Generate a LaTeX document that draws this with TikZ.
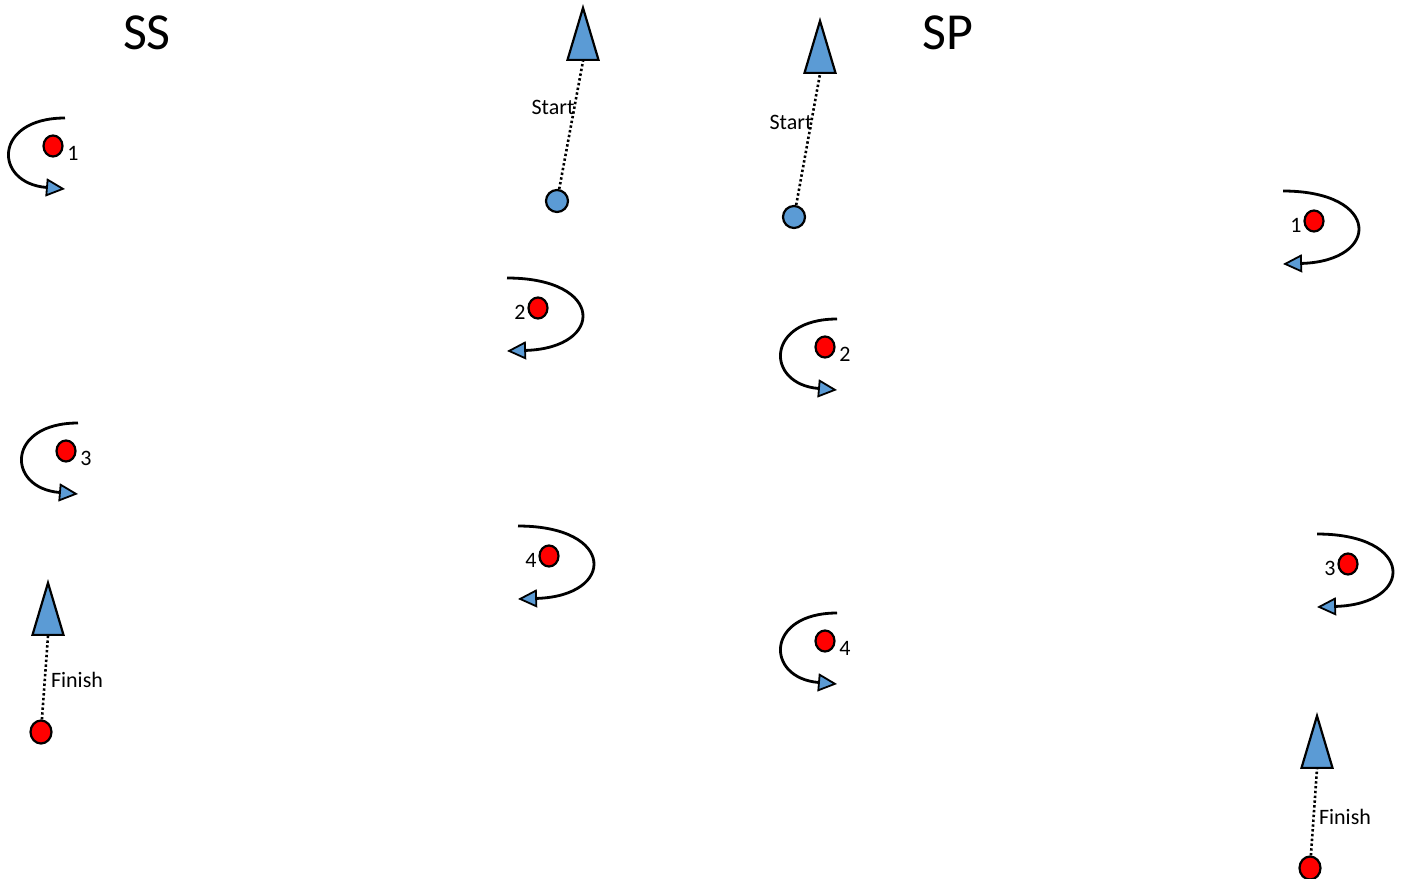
\documentclass[tikz,border=0pt]{standalone}
\usepackage{fontspec}
\setmainfont{Carlito}
\usetikzlibrary{shapes.geometric,arrows.meta}

\definecolor{markblue}{HTML}{5B9BD5}
\definecolor{markred}{HTML}{FF0000}

\tikzset{
  buoy/.style={ellipse,draw,line width=2.2pt,fill=markred,minimum width=19pt,minimum height=21pt,inner sep=0pt},
  startpt/.style={circle,draw,line width=2.2pt,fill=markblue,minimum size=22pt,inner sep=0pt},
  finishpt/.style={ellipse,draw,line width=2.2pt,fill=markred,minimum width=21pt,minimum height=23pt,inner sep=0pt},
  pointer/.style={isosceles triangle,isosceles triangle stretches,shape border rotate=90,draw,line width=2.2pt,fill=markblue,minimum width=31pt,minimum height=52pt,inner sep=0pt,anchor=apex},
  dotline/.style={line width=2.6pt,dash pattern=on 2.4pt off 2.4pt},
  turn/.style={line width=2.8pt,-{Triangle[length=19pt,width=18pt,fill=markblue,line width=1.8pt]}},
  lbl/.style={font=\fontsize{22}{26}\selectfont,inner sep=0pt},
  title/.style={font=\fontsize{52}{60}\selectfont,inner sep=0pt}
}

\begin{document}
\begin{tikzpicture}[x=1pt,y=-1pt]
  \useasboundingbox (0,0) rectangle (1402,878);

  \node[title] (sstitle) at (147,33) {SS};
  \node[title] (sptitle) at (948,33) {SP};

  % marks rounded on the left
  \foreach \x/\y/\n/\m in {53/146/1/ssa, 66/451/3/ssc, 825/347/2/spb, 825/641/4/spd} {
    \node[buoy] (\m) at (\x,\y) {};
    \node[lbl] (\m-lbl) at (\x+20,\y+7) {\n};
    \draw[turn] (\x+12,\y-28) .. controls (\x-60,\y-28) and (\x-60,\y+37) .. (\x+12,\y+43);
  }

  % marks rounded on the right
  \foreach \x/\y/\n/\m in {538/308/2/ssb, 549/556/4/ssd, 1314/221/1/spa, 1348/564/3/spc} {
    \node[buoy] (\m) at (\x,\y) {};
    \node[lbl] (\m-lbl) at (\x-18,\y+4) {\n};
    \draw[turn] (\x-31,\y-30) .. controls (\x+67,\y-30) and (\x+67,\y+40) .. (\x-31,\y+43);
  }

  % start and finish
  \node[startpt] (ssstart) at (557,201) {};
  \node[pointer] (ssstartarrow) at (583,5) {};
  \draw[dotline] (ssstart) -- (ssstartarrow.lower side);
  \node[lbl] (ssstartlbl) at (553,107) {Start};

  \node[startpt] (spstart) at (794,217) {};
  \node[pointer] (spstartarrow) at (820,18) {};
  \draw[dotline] (spstart) -- (spstartarrow.lower side);
  \node[lbl] (spstartlbl) at (791,122) {Start};

  \node[finishpt] (ssfinish) at (41,732) {};
  \node[pointer] (ssfinisharrow) at (48,580) {};
  \draw[dotline] (ssfinish) -- (ssfinisharrow.lower side);
  \node[lbl] (ssfinishlbl) at (77,680) {Finish};

  \node[finishpt] (spfinish) at (1310,868) {};
  \node[pointer] (spfinisharrow) at (1317,713) {};
  \draw[dotline] (spfinish) -- (spfinisharrow.lower side);
  \node[lbl] (spfinishlbl) at (1345,817) {Finish};
\end{tikzpicture}
\end{document}
